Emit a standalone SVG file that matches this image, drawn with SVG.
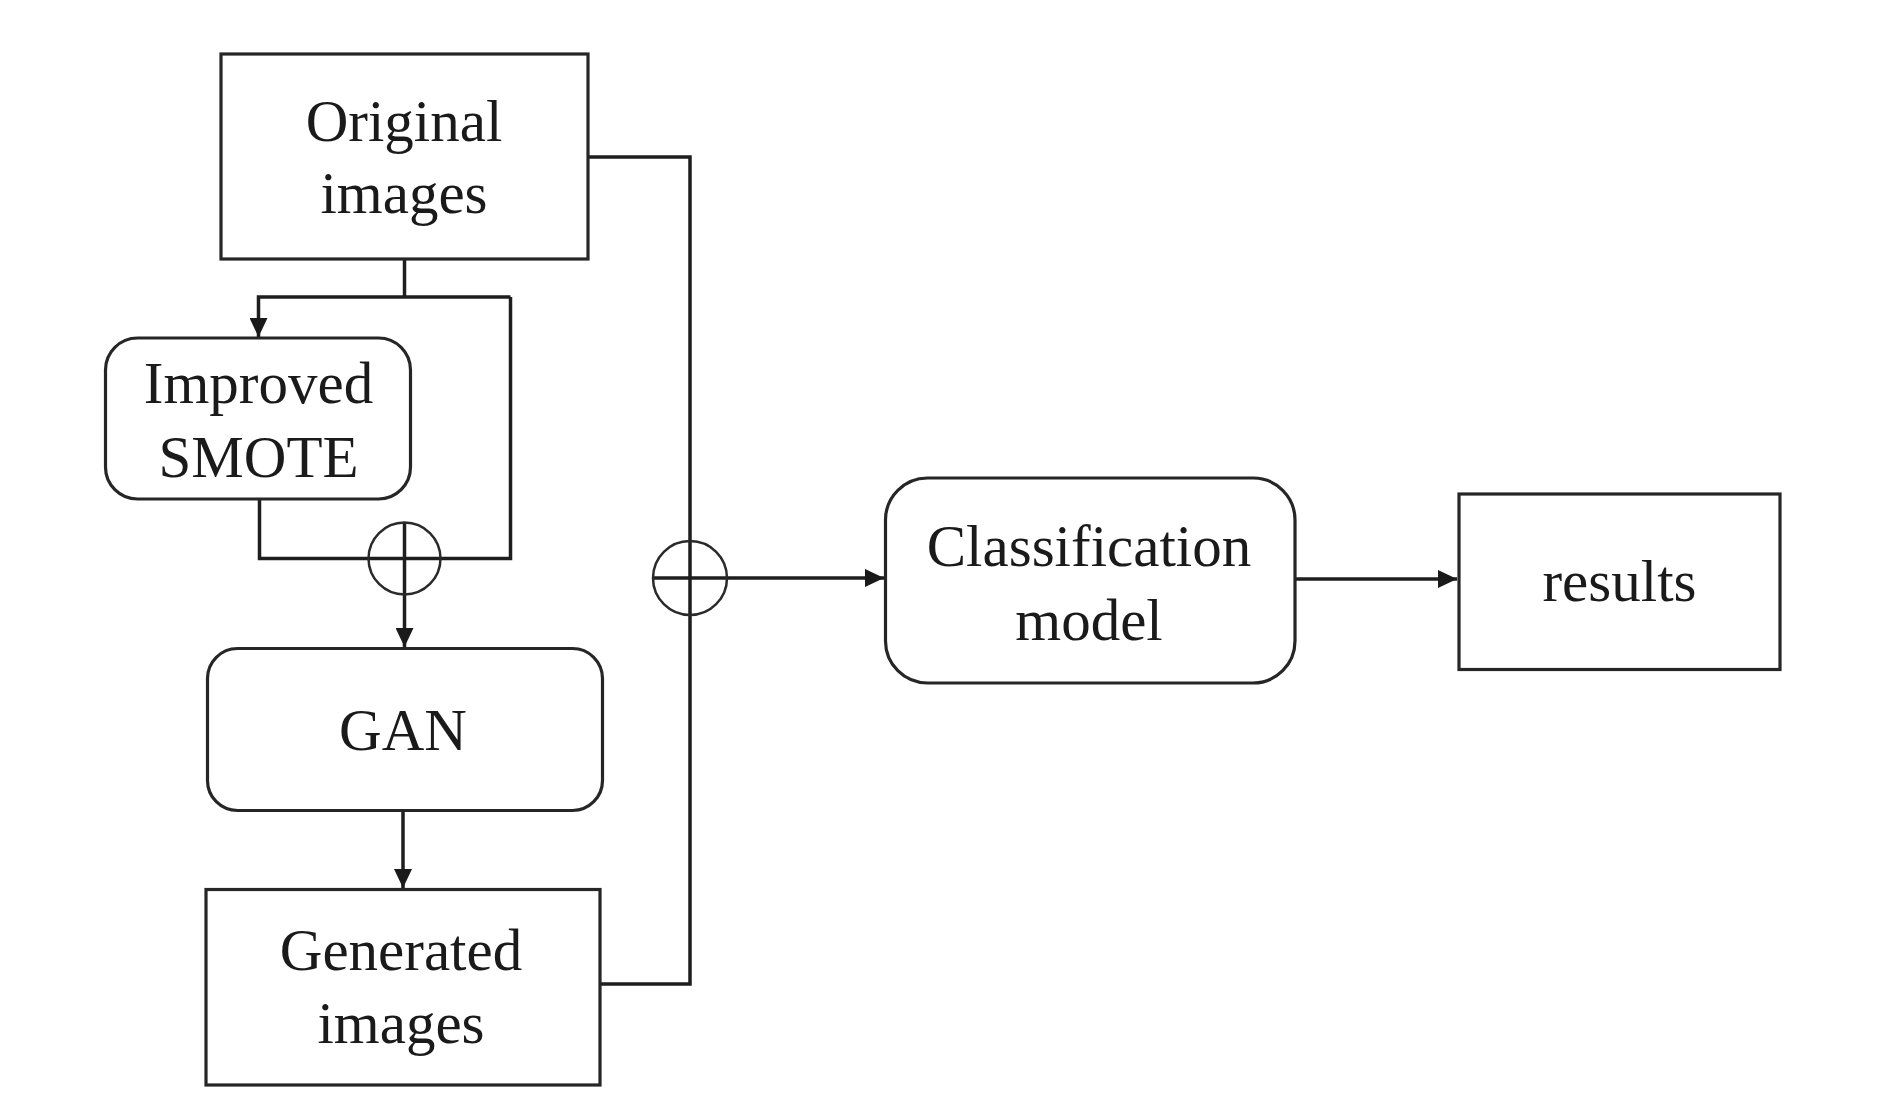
<svg xmlns="http://www.w3.org/2000/svg" width="1892" height="1118" viewBox="0 0 1892 1118">
<style>
.box{fill:#fff;stroke:#262626;stroke-width:3.2}
.ln{fill:none;stroke:#1e1e1e;stroke-width:3.5}
.cir{fill:none;stroke:#2a2a2a;stroke-width:2.5}
.t{font-family:"Liberation Serif","Times New Roman",serif;font-size:59px;fill:#1a1a1a;text-anchor:middle}
</style>
<defs>
<marker id="ah" markerUnits="userSpaceOnUse" markerWidth="20" markerHeight="18" refX="19" refY="9" orient="auto">
<path d="M0,0 L19,9 L0,18 Z" fill="#1a1a1a"/>
</marker>
</defs>
<rect width="1892" height="1118" fill="#fff"/>
<g id="connectors">
<polyline class="ln" points="588,157 690,157 690,984 600,984"/>
<line class="ln" x1="404.5" y1="259" x2="404.5" y2="297"/>
<polyline class="ln" points="510.5,297 258.5,297 258.5,337" marker-end="url(#ah)"/>
<polyline class="ln" points="510.5,297 510.5,558.5 259.5,558.5 259.5,499"/>
<line class="ln" x1="404.5" y1="522" x2="404.5" y2="647" marker-end="url(#ah)"/>
<line class="ln" x1="403" y1="810" x2="403" y2="888" marker-end="url(#ah)"/>
<line class="ln" x1="653" y1="578" x2="884" y2="578" marker-end="url(#ah)"/>
<line class="ln" x1="1295" y1="579" x2="1457" y2="579" marker-end="url(#ah)"/>
<circle id="sum1" class="cir" cx="404.5" cy="558.5" r="36"/>
<circle id="sum2" class="cir" cx="690" cy="578" r="37"/>
</g>
<g id="original">
<rect class="box" x="221" y="54" width="367" height="205"/>
<text class="t" x="404" y="141">Original</text>
<text class="t" x="404" y="213">images</text>
</g>
<g id="smote">
<rect class="box" x="105.5" y="338" width="305" height="161" rx="32"/>
<text class="t" x="258.5" y="403">Improved</text>
<text class="t" x="258.5" y="477">SMOTE</text>
</g>
<g id="gan">
<rect class="box" x="207.5" y="648.5" width="395" height="162" rx="30"/>
<text class="t" x="403" y="750">GAN</text>
</g>
<g id="generated">
<rect class="box" x="206" y="889.5" width="394" height="195.5"/>
<text class="t" x="401" y="970">Generated</text>
<text class="t" x="401" y="1043">images</text>
</g>
<g id="classification">
<rect class="box" x="885.5" y="478" width="409.5" height="205" rx="42"/>
<text class="t" x="1089" y="566">Classification</text>
<text class="t" x="1089" y="640">model</text>
</g>
<g id="results">
<rect class="box" x="1459" y="494" width="321" height="175.5"/>
<text class="t" x="1619.5" y="601">results</text>
</g>
</svg>
